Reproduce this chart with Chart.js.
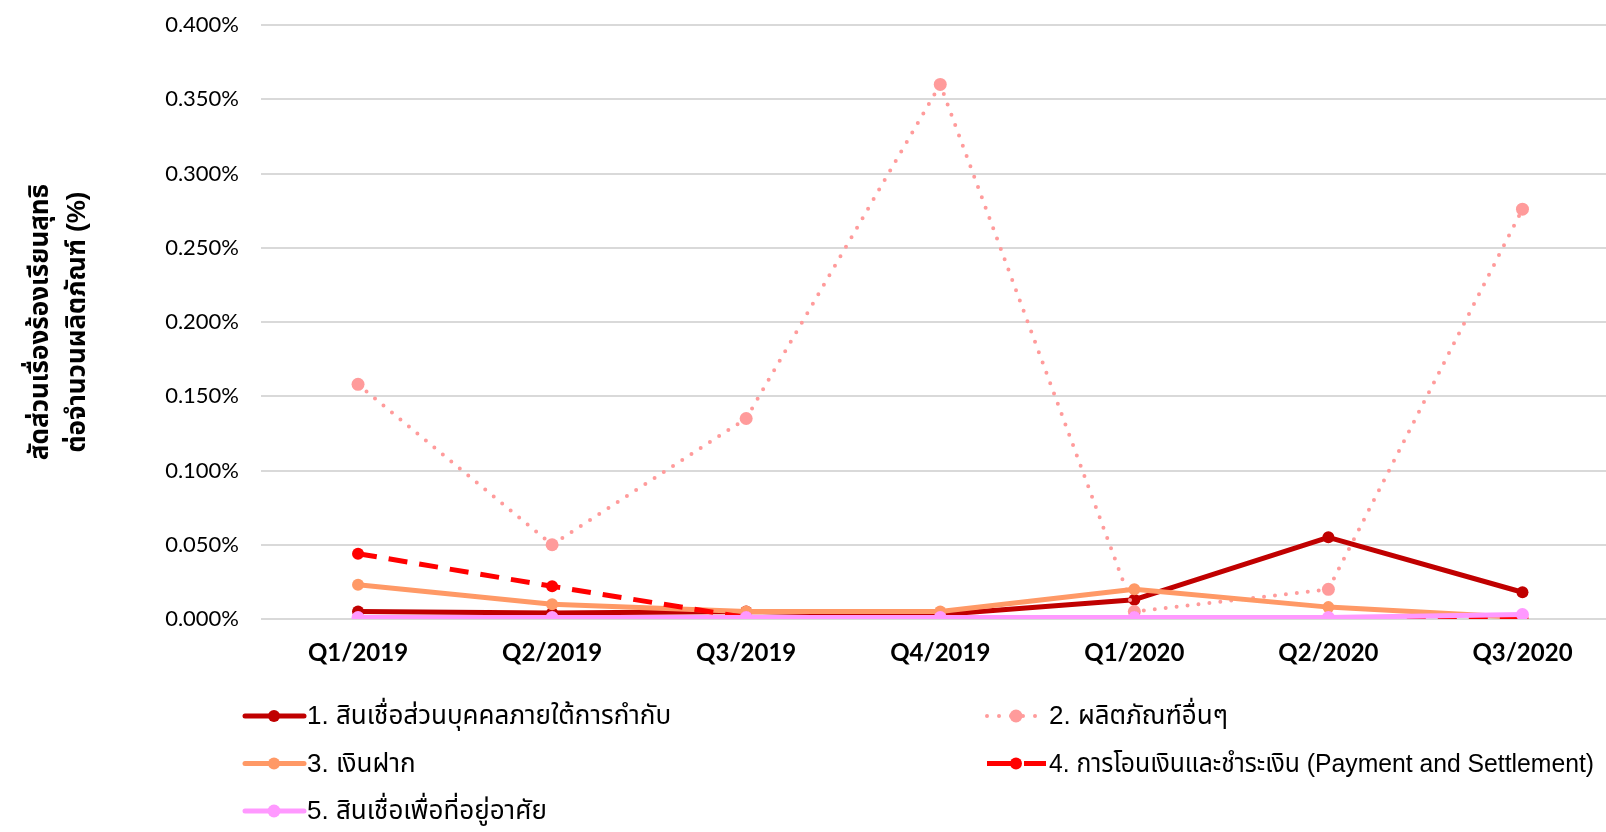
<!DOCTYPE html>
<html><head><meta charset="utf-8">
<script src="https://cdn.jsdelivr.net/npm/chart.js@4.4.0/dist/chart.umd.min.js"></script>
<style>
html,body{margin:0;padding:0;background:#fff;overflow:hidden;width:1606px;height:832px}
#wrap{position:absolute;left:0;top:0;width:1626px;height:832px}
</style></head><body>
<div id="wrap"><canvas id="c" width="1626" height="832"></canvas></div>
<script>
const categories = ['Q1/2019','Q2/2019','Q3/2019','Q4/2019','Q1/2020','Q2/2020','Q3/2020'];
const seriesNames = [
  '1. สินเชื่อส่วนบุคคลภายใต้การกำกับ',
  '2. ผลิตภัณฑ์อื่นๆ',
  '3. เงินฝาก',
  '4. การโอนเงินและชำระเงิน (Payment and Settlement)',
  '5. สินเชื่อเพื่อที่อยู่อาศัย'
];
const personalLoan = [0.005, 0.004, 0.005, 0.003, 0.013, 0.055, 0.018];
const otherProducts = [0.158, 0.050, 0.135, 0.360, 0.005, 0.020, 0.276];
const deposits = [0.023, 0.010, 0.005, 0.005, 0.020, 0.008, 0.001];
const payments = [0.044, 0.022, 0.001, 0.000, 0.001, 0.000, 0.000];
const housingLoan = [0.001, 0.001, 0.001, 0.001, 0.001, 0.001, 0.003];
const yTickValues = [0, 0.05, 0.1, 0.15, 0.2, 0.25, 0.3, 0.35, 0.4];
const yTickLabels = ['0.000%','0.050%','0.100%','0.150%','0.200%','0.250%','0.300%','0.350%','0.400%'];
const yTitle = ['สัดส่วนเรื่องร้องเรียนสุทธิ', 'ต่อจำนวนผลิตภัณฑ์ (%)'];

const THAI = '"Liberation Sans", "Noto Sans Thai", "Tlwg Typist", "Garuda", "Loma", sans-serif';

const styles = [
  {color:'#C00000', width:5, dash:[], cap:'round', r:6, legendDash:[]},
  {color:'#FF9B9B', width:4, dash:[0,11], cap:'round', r:6.5, legendDash:[0,12]},
  {color:'#FF9966', width:5, dash:[], cap:'round', r:6, legendDash:[]},
  {color:'#FF0000', width:5, dash:[19,12], cap:'butt', r:6, legendDash:[24,13]},
  {color:'#FF99FF', width:5, dash:[], cap:'round', r:6.5, legendDash:[]}
];
const values = [personalLoan, otherProducts, deposits, payments, housingLoan];

const datasets = values.map((v,i)=>({
  label: seriesNames[i],
  data: v,
  borderColor: styles[i].color,
  backgroundColor: styles[i].color,
  pointBackgroundColor: styles[i].color,
  pointBorderColor: styles[i].color,
  pointBorderWidth: 0,
  pointRadius: styles[i].r,
  borderWidth: styles[i].width,
  borderDash: styles[i].dash,
  borderCapStyle: styles[i].cap,
  borderJoinStyle: 'round',
  tension: 0,
  fill: false,
  order: 5 - i,
  legendDash: styles[i].legendDash
}));

const gridLegend = {
  id: 'gridLegend',
  afterDraw(chart){
    const ctx = chart.ctx, ca = chart.chartArea;
    chart.data.datasets.forEach((ds,i)=>{
      const col = i % 2, row = Math.floor(i/2);
      const x0 = col === 0 ? 243 : 985;
      const y = ca.bottom + 97 + row * 47.5;
      ctx.save();
      ctx.strokeStyle = ds.borderColor;
      ctx.lineWidth = ds.borderWidth;
      ctx.lineCap = ds.borderCapStyle;
      ctx.setLineDash(ds.legendDash);
      ctx.beginPath(); ctx.moveTo(x0 + 2, y); ctx.lineTo(x0 + 61, y); ctx.stroke();
      ctx.setLineDash([]);
      ctx.fillStyle = ds.pointBackgroundColor;
      ctx.beginPath(); ctx.arc(x0 + 31, y, ds.pointRadius, 0, Math.PI*2); ctx.fill();
      ctx.fillStyle = '#000';
      ctx.font = '26px ' + THAI;
      ctx.textBaseline = 'middle';
      ctx.textAlign = 'left';
      const maxW = col === 0 ? 660 : 1594 - (x0 + 64);
      ctx.fillText(ds.label, x0 + 64, y + 1, maxW);
      ctx.restore();
    });
  }
};

new Chart(document.getElementById('c'), {
  type: 'line',
  data: { labels: categories, datasets },
  plugins: [gridLegend],
  options: {
    responsive: false,
    devicePixelRatio: 1,
    animation: false,
    layout: { padding: { top: 25, right: 2, left: 0, bottom: 0 } },
    plugins: { legend: { display: false }, tooltip: { enabled: false } },
    scales: {
      x: {
        type: 'category',
        offset: true,
        grid: { display: false, drawTicks: false },
        border: { display: false },
        ticks: { color: '#000', padding: 20, font: { family: 'Lato', weight: 'bold', size: 24 }, maxRotation: 0 },
        afterFit(scale){ scale.height = 213; }
      },
      y: {
        min: 0, max: 0.4,
        afterBuildTicks(scale){ scale.ticks = yTickValues.map(v=>({value:v})); },
        grid: { color: '#D9D9D9', lineWidth: 2, drawTicks: false, tickLength: 0 },
        border: { display: false },
        ticks: {
          color: '#000', padding: 22,
          font: { family: 'Lato', size: 22 },
          callback: (v, idx) => yTickLabels[idx]
        },
        title: {
          display: true,
          text: yTitle,
          color: '#000',
          font: { family: THAI, weight: 'bold', size: 26, lineHeight: 1.4 },
          padding: { top: 23, bottom: 0 }
        },
        afterFit(scale){ scale.width = 261; scale.paddingTop = 0; scale.paddingBottom = 0; }
      }
    }
  }
});
</script>
</body></html>
